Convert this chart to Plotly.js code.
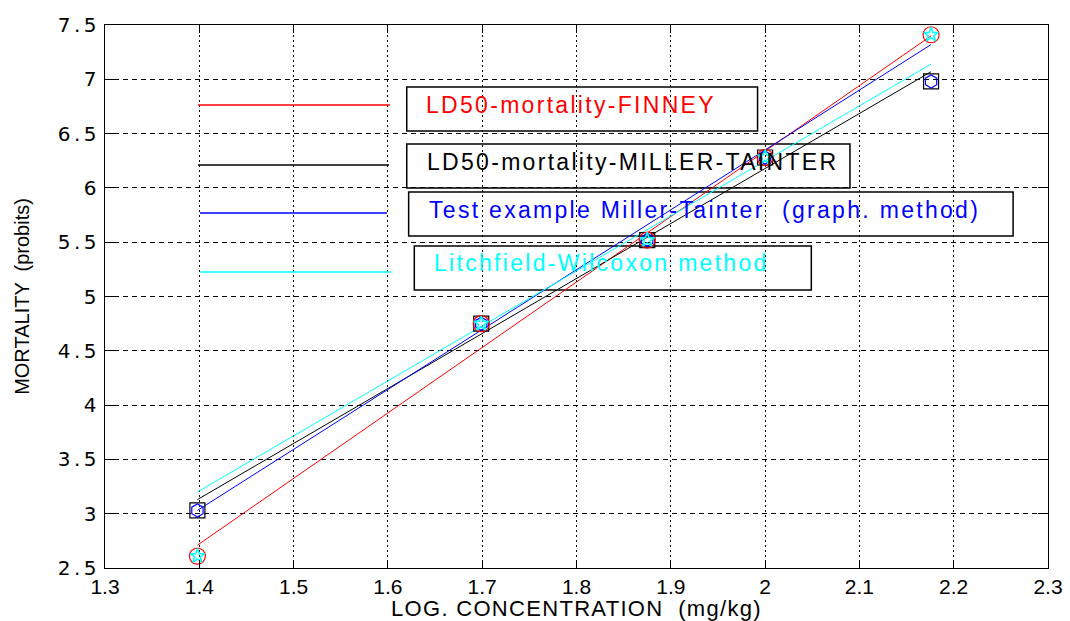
<!DOCTYPE html>
<html>
<head>
<meta charset="utf-8">
<script src="https://cdn.plot.ly/plotly-3.0.1.min.js"></script>
<style>
  html, body { margin: 0; padding: 0; background: #fff; }
  #chart { width: 1070px; height: 621px; }
  text.annotation-text { letter-spacing: 2.3px; }
  .ytick text { letter-spacing: 3.5px; }
  .xtitle { letter-spacing: 1.3px; }
</style>
</head>
<body>
<div id="chart"></div>
<script>
// ---- data ----
const logDose = [1.398, 1.699, 1.875, 2.0, 2.176];          // LOG. CONCENTRATION (mg/kg)
const probitFinney = [2.61, 4.75, 5.52, 6.28, 7.41];        // observed probits (Finney / L-W)
const probitMillerTainter = [3.03, 4.75, 5.52, 6.28, 6.98]; // observed probits (Miller-Tainter)
const fitX = [1.398, 2.176];
const fitFinney = [2.71, 7.40];
const fitMillerTainter = [3.13, 7.07];
const fitTestExample = [3.03, 7.32];
const fitLitchfield = [3.20, 7.14];
const seriesNames = [
  'LD50-mortality-FINNEY',
  'LD50-mortality-MILLER-TAINTER',
  'Test example Miller-Tainter \u00a0(graph. method)',
  'Litchfield-Wilcoxon method'
];
const xTickVals = [1.3, 1.4, 1.5, 1.6, 1.7, 1.8, 1.9, 2.0, 2.1, 2.2, 2.3];
const xTickText = ['1.3', '1.4', '1.5', '1.6', '1.7', '1.8', '1.9', '2', '2.1', '2.2', '2.3'];
const yTickVals = [2.5, 3, 3.5, 4, 4.5, 5, 5.5, 6, 6.5, 7, 7.5];
const yTickText = ['2.5', '3', '3.5', '4', '4.5', '5', '5.5', '6', '6.5', '7', '7.5'];

const RED = '#ff0000', BLACK = '#000000', BLUE = '#0000ff', CYAN = '#00ffff';

const traces = [
  {x: fitX, y: fitFinney, mode: 'lines', line: {color: RED, width: 1}, name: seriesNames[0]},
  {x: fitX, y: fitMillerTainter, mode: 'lines', line: {color: BLACK, width: 1}, name: seriesNames[1]},
  {x: fitX, y: fitTestExample, mode: 'lines', line: {color: BLUE, width: 1}, name: seriesNames[2]},
  {x: fitX, y: fitLitchfield, mode: 'lines', line: {color: CYAN, width: 1}, name: seriesNames[3]},
  {x: logDose, y: probitMillerTainter, mode: 'markers',
   marker: {symbol: 'square-open', size: 15, color: BLACK, line: {width: 1.2}}},
  {x: logDose, y: probitFinney, mode: 'markers',
   marker: {symbol: 'circle-open', size: 16, color: RED, line: {width: 1.2}}},
  {x: logDose, y: probitMillerTainter, mode: 'markers',
   marker: {symbol: 'hexagon-open', size: 13, color: BLUE, line: {width: 1.2}}},
  {x: logDose, y: probitFinney, mode: 'markers',
   marker: {symbol: 'star-open', size: 11, color: CYAN, line: {width: 1.5}}}
];

// legend drawn MATLAB-style: sample lines + boxed labels
function legendLine(x0, x1, y, color) {
  return {type: 'line', xref: 'x', yref: 'y', x0: x0, x1: x1, y0: y, y1: y,
          line: {color: color, width: 1.5}, layer: 'between'};
}
function legendBox(x0, x1, y0, y1) {
  return {type: 'rect', xref: 'x', yref: 'y', x0: x0, x1: x1, y0: y0, y1: y1,
          line: {color: '#000', width: 1.5}, fillcolor: 'rgba(0,0,0,0)', layer: 'between'};
}
const shapes = [
  legendLine(1.3986, 1.6022, 6.763, RED),
  legendLine(1.3986, 1.6012, 6.211, BLACK),
  legendLine(1.4007, 1.5990, 5.769, BLUE),
  legendLine(1.4007, 1.6033, 5.226, CYAN),
  legendBox(1.620, 1.992, 6.929, 6.524),
  legendBox(1.620, 2.090, 6.404, 6.000),
  legendBox(1.622, 2.263, 5.962, 5.557),
  legendBox(1.628, 2.049, 5.465, 5.060)
];
function label(x, y, text, color) {
  return {x: x, y: y, xref: 'x', yref: 'y', text: text, showarrow: false,
          xanchor: 'left', yanchor: 'middle',
          font: {family: 'Liberation Sans, Arial, sans-serif', size: 23, color: color}};
}
const annotations = [
  label(1.638, 6.763, seriesNames[0], RED),
  label(1.639, 6.243, seriesNames[1], BLACK),
  label(1.6415, 5.797, seriesNames[2], BLUE),
  label(1.6468, 5.304, seriesNames[3], CYAN)
];

const layout = {
  width: 1070, height: 621,
  margin: {l: 105, r: 22, t: 25, b: 53},
  paper_bgcolor: '#fff', plot_bgcolor: '#fff',
  showlegend: false,
  font: {family: 'Liberation Sans, Arial, sans-serif', color: '#000'},
  xaxis: {
    range: [1.3, 2.3], tickvals: xTickVals, ticktext: xTickText,
    showline: true, linecolor: '#000', linewidth: 1, mirror: 'ticks',
    ticks: 'inside', ticklen: 8, tickcolor: '#000',
    showgrid: true, gridcolor: '#000', gridwidth: 1, griddash: '2px,3px',
    zeroline: false,
    tickfont: {size: 21, color: '#000'},
    title: {text: 'LOG. CONCENTRATION \u00a0(mg/kg)', font: {size: 22, color: '#000'}, standoff: 4}
  },
  yaxis: {
    range: [2.5, 7.5], tickvals: yTickVals, ticktext: yTickText,
    showline: true, linecolor: '#000', linewidth: 1, mirror: 'ticks',
    ticks: 'inside', ticklen: 10, tickcolor: '#000',
    showgrid: true, gridcolor: '#000', gridwidth: 1, griddash: '5px,4px',
    zeroline: false,
    tickfont: {family: 'DejaVu Sans, sans-serif', size: 20, color: '#000'},
    title: {text: 'MORTALITY \u00a0(probits)', font: {size: 20, color: '#000'}, standoff: 22}
  },
  shapes: shapes,
  annotations: annotations
};

Plotly.newPlot('chart', traces, layout, {displayModeBar: false, staticPlot: true});
</script>
</body>
</html>
